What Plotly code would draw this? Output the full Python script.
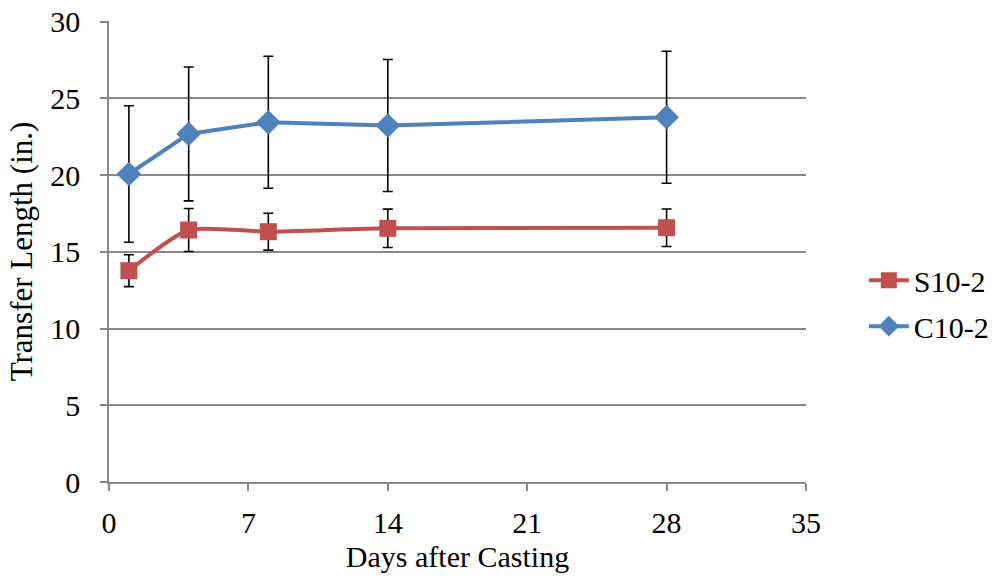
import plotly.graph_objects as go

days = [1, 4, 8, 14, 28]
s10_2 = [13.77, 16.42, 16.31, 16.53, 16.57]
s10_2_err = [1.04, 1.4, 1.2, 1.25, 1.22]
c10_2 = [20.07, 22.68, 23.44, 23.23, 23.77]
c10_2_err = [4.45, 4.36, 4.3, 4.3, 4.3]

x_ticks = [0, 7, 14, 21, 28, 35]
y_ticks = [0, 5, 10, 15, 20, 25, 30]

font_family = "Liberation Serif, Times New Roman, serif"

fig = go.Figure()
fig.add_trace(go.Scatter(
    x=days, y=s10_2, name="S10-2", mode="lines+markers",
    line=dict(color="#C0504D", width=4, shape="spline", smoothing=0.6),
    marker=dict(symbol="square", size=17, color="#C0504D"),
    error_y=dict(type="data", array=s10_2_err, visible=True, color="black", thickness=1.6, width=5),
    legendgroup="s",
))
fig.add_trace(go.Scatter(
    x=days, y=c10_2, name="C10-2", mode="lines+markers",
    line=dict(color="#4F81BD", width=4),
    marker=dict(symbol="diamond", size=19, color="#4F81BD"),
    error_y=dict(type="data", array=c10_2_err, visible=True, color="black", thickness=1.6, width=5),
    legendgroup="c",
))

fig.update_layout(
    width=1007, height=586,
    margin=dict(l=109, r=201, t=21, b=104),
    paper_bgcolor="white", plot_bgcolor="white",
    font=dict(family=font_family, size=30, color="black"),
    showlegend=True,
    legend=dict(x=1.083, y=0.388, xanchor="left", yanchor="middle",
                font=dict(size=30, family=font_family), tracegroupgap=4,
                bgcolor="rgba(0,0,0,0)", itemwidth=40),
    xaxis=dict(range=[0, 35], tickvals=x_ticks, showgrid=False, zeroline=False,
               showline=True, linecolor="#888888", linewidth=1.5,
               ticks="outside", ticklen=7, tickcolor="#888888", tickwidth=1.5,
               ticklabelstandoff=6, automargin=False, ticklabeloverflow="allow",
               title=dict(text="Days after Casting", font=dict(size=30), standoff=8),
               tickfont=dict(size=30)),
    yaxis=dict(range=[0, 30.04], tickvals=y_ticks, showgrid=True, gridcolor="#888888", gridwidth=1.5,
               zeroline=False, showline=True, linecolor="#888888", linewidth=1.5,
               ticks="outside", ticklen=7, tickcolor="#888888", tickwidth=1.5,
               ticklabelstandoff=14, automargin=False, ticklabeloverflow="allow",
               title=dict(text="Transfer Length (in.)", font=dict(size=31), standoff=8),
               tickfont=dict(size=30)),
)

fig.write_html("out.html", config={"displayModeBar": False},
               post_script="document.body.style.margin='0';")
